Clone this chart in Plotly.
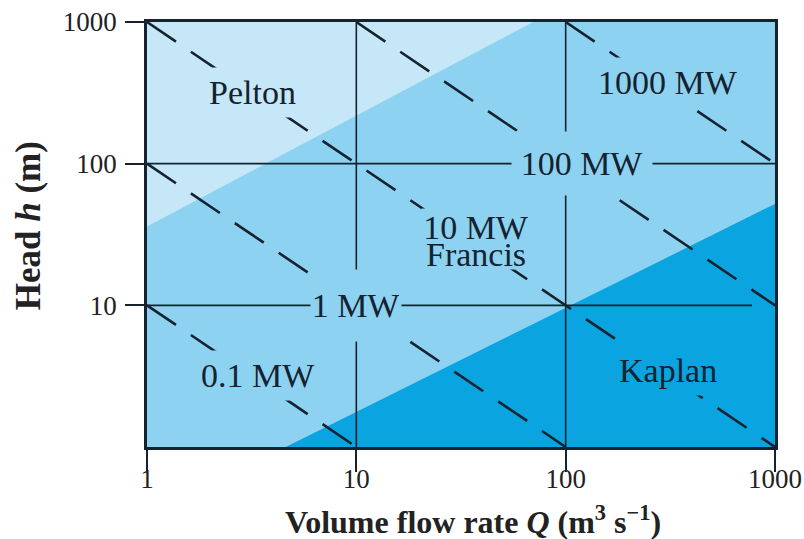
import numpy as np
import plotly.graph_objects as go

# ---------------- data ----------------
# Region boundaries (log-log straight lines), Q in m^3/s, h in m
pelton_edge_q = [1, 70, 1]
pelton_edge_h = [36, 1000, 1000]
kaplan_edge_q = [4.6, 1000, 1000]
kaplan_edge_h = [1, 52, 1]

# Constant power lines (dashed): endpoints (Q, h)
power_labels = ["0.1 MW", "1 MW", "10 MW", "100 MW", "1000 MW"]
power_q = [[1, 10], [1, 100], [1, 1000], [10, 1000], [100, 1000]]
power_h = [[10, 1], [100, 1], [1000, 1], [1000, 10], [1000, 100]]

# Grid lines
vgrid_q = [10, 100]
hgrid_h = [100, 10]
hgrid_qmax = [1000, 777]

x_ticks = [1, 10, 100, 1000]
x_ticktext = ["1", "10", "100", "1000"]
y_ticks = [10, 100, 1000]
y_ticktext = ["10", "100", "1000"]

# Text labels: text, Q, h, region
label_text = ["Pelton", "1000 MW", "100 MW", "10 MW", "Francis", "1 MW", "0.1 MW", "Kaplan"]
label_q = [3.18, 308, 120, 37.3, 37.3, 10, 3.39, 308]
label_h = [320, 377, 100, 29.4, 22.7, 10, 3.22, 3.44]
label_region = ["pelton", "francis", "francis", "francis", None, "francis", "francis", "kaplan"]

# ---------------- styling ----------------
C_PELTON = "#c6e7f8"
C_FRANCIS = "#8dd2f1"
C_KAPLAN = "#0aa5e1"
C_INK = "#15222f"
FONT = "Liberation Serif"
region_color = {"pelton": C_PELTON, "francis": C_FRANCIS, "kaplan": C_KAPLAN,
                None: "rgba(0,0,0,0)"}

fig = go.Figure()

fig.add_trace(go.Scatter(x=pelton_edge_q, y=pelton_edge_h, fill="toself",
                         fillcolor=C_PELTON, line=dict(width=0), mode="lines",
                         hoverinfo="skip", showlegend=False))
fig.add_trace(go.Scatter(x=kaplan_edge_q, y=kaplan_edge_h, fill="toself",
                         fillcolor=C_KAPLAN, line=dict(width=0), mode="lines",
                         hoverinfo="skip", showlegend=False))

# grid lines
gx, gy = [], []
for q in vgrid_q:
    gx += [q, q, None]
    gy += [1, 1000, None]
for h, qm in zip(hgrid_h, hgrid_qmax):
    gx += [1, qm, None]
    gy += [h, h, None]
fig.add_trace(go.Scatter(x=gx, y=gy, mode="lines",
                         line=dict(color=C_INK, width=1.6),
                         hoverinfo="skip", showlegend=False))

# dashed power lines
for name, q, h in zip(power_labels, power_q, power_h):
    fig.add_trace(go.Scatter(x=q, y=h, mode="lines", name=name,
                             line=dict(color=C_INK, width=2.6, dash="35px,18px"),
                             hoverinfo="skip", showlegend=False))

annotations = []
for t, q, h, r in zip(label_text, label_q, label_h, label_region):
    a = dict(x=np.log10(q), y=np.log10(h), xref="x", yref="y", text=t,
             showarrow=False, bgcolor=region_color[r], borderpad=6,
             font=dict(family=FONT, size=34, color=C_INK))
    if t == "1 MW":
        a.update(width=86, height=67, borderpad=2)
    elif t == "100 MW":
        a.update(width=136, height=59, borderpad=2)
    elif t == "10 MW":
        a.update(width=108, height=60, valign="top", borderpad=0)
    elif t == "Francis":
        a.update(borderpad=0)
    annotations.append(a)

annotations.append(dict(
    x=0.519, y=-0.172, xref="paper", yref="paper", showarrow=False,
    text="<b>Volume flow rate <i>Q</i> (m<sup>3</sup> s<sup>−1</sup>)</b>",
    font=dict(family=FONT, size=32, color="#222222"),
    xanchor="center", yanchor="middle"))
annotations.append(dict(
    x=-0.189, y=0.52, xref="paper", yref="paper", showarrow=False,
    text="<b>Head <i>h</i> (m)</b>", textangle=-90,
    font=dict(family=FONT, size=35, color="#222222"),
    xanchor="center", yanchor="middle"))

fig.update_layout(
    width=804, height=539,
    margin=dict(l=147, r=29, t=22, b=92, autoexpand=False),
    paper_bgcolor="white", plot_bgcolor=C_FRANCIS,
    annotations=annotations,
    showlegend=False,
)
fig.update_xaxes(type="log", range=[0, 3], tickvals=x_ticks, ticktext=x_ticktext,
                 showgrid=False, zeroline=False,
                 showline=True, mirror=True, linecolor=C_INK, linewidth=2.6,
                 ticks="outside", ticklen=22, tickwidth=1.6, tickcolor=C_INK,
                 tickfont=dict(family=FONT, size=27, color="#222222"),
                 ticklabelstandoff=-16)
fig.update_yaxes(type="log", range=[0, 3], tickvals=y_ticks, ticktext=y_ticktext,
                 showgrid=False, zeroline=False,
                 showline=True, mirror=True, linecolor=C_INK, linewidth=2.6,
                 ticks="outside", ticklen=19, tickwidth=1.6, tickcolor=C_INK,
                 tickfont=dict(family=FONT, size=27, color="#222222"),
                 ticklabelstandoff=3)

fig.write_html("out.html", config={"displayModeBar": False},
               post_script="document.body.style.margin='0';document.body.style.padding='0';")
